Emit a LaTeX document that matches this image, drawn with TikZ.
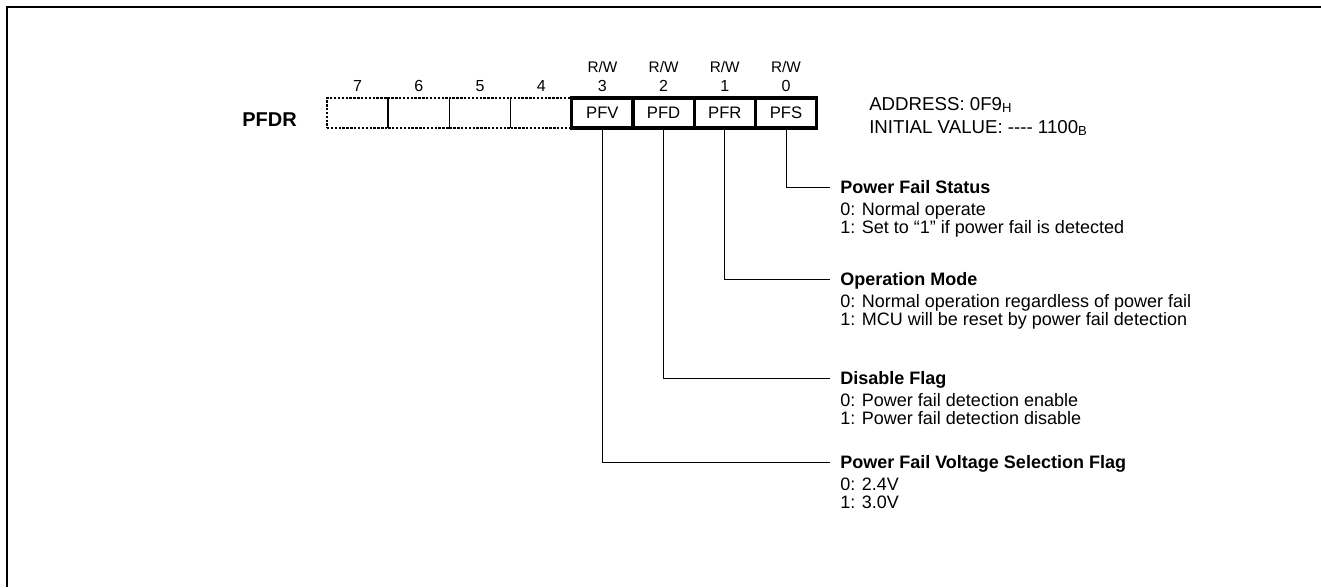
\documentclass[tikz,border=0pt]{standalone}
\usepackage{fontspec}
\setmainfont{Liberation Sans}
\usetikzlibrary{positioning}

\newcommand{\cellfont}{\fontsize{12.5}{14}\selectfont}
\newcommand{\descfont}{\fontsize{13.5}{13.5}\selectfont}
\newcommand{\addrfont}{\fontsize{14}{17}\selectfont}

\tikzset{
  every node/.style={font=\cellfont},
  freebit/.style={draw, line width=1.3pt, dash pattern=on 1.8pt off 1.1pt,
    minimum width=45.9pt, minimum height=22.5pt, inner sep=0pt, outer sep=0pt},
  regbit/.style={draw, line width=2.3pt, minimum width=45.9pt,
    minimum height=22.5pt, inner sep=0pt, outer sep=0pt},
  bitno/.style={inner sep=0pt, font=\fontsize{12}{14}\selectfont,
    text height=8.6pt, text depth=0pt},
  access/.style={inner sep=0pt, font=\fontsize{11.5}{14}\selectfont,
    text height=8.3pt, text depth=0pt},
  addrtext/.style={font=\addrfont, inner sep=0pt, anchor=base west},
  fieldname/.style={font=\descfont\bfseries, inner sep=0pt, anchor=west,
    text height=9.7pt, text depth=0pt},
  fieldvals/.style={font=\descfont, inner sep=0pt, align=left, anchor=base west},
  leader/.style={line width=0.75pt}
}

\begin{document}
\begin{tikzpicture}[x=0.75pt, y=-0.75pt]
  \useasboundingbox (0,0) rectangle (1321,587);
  % frame
  \draw[line width=1.5pt] (6.5,587) -- (6.5,6.5) -- (1321,6.5);

  % register cells
  \node[font=\fontsize{15}{17}\selectfont\bfseries, inner sep=0pt, anchor=base]
    (pfdr) at (269.5,126.7) {PFDR};
  \node[freebit] (bit7) at (357.6,113) {};
  \node[freebit, right=0pt of bit7] (bit6) {};
  \node[freebit, right=0pt of bit6] (bit5) {};
  \node[freebit, right=0pt of bit5] (bit4) {};
  \node[regbit, right=0pt of bit4] (pfv) {PFV};
  \node[regbit, right=0pt of pfv] (pfd) {PFD};
  \node[regbit, right=0pt of pfd] (pfr) {PFR};
  \node[regbit, right=0pt of pfr] (pfs) {PFS};

  % bit numbers and access
  \node[bitno, above=4.7pt of bit7] (num7) {7};
  \node[bitno, above=4.7pt of bit6] (num6) {6};
  \node[bitno, above=4.7pt of bit5] (num5) {5};
  \node[bitno, above=4.7pt of bit4] (num4) {4};
  \node[bitno, above=4.7pt of pfv] (num3) {3};
  \node[bitno, above=4.7pt of pfd] (num2) {2};
  \node[bitno, above=4.7pt of pfr] (num1) {1};
  \node[bitno, above=4.7pt of pfs] (num0) {0};
  \node[access, above=5pt of num3] (rw3) {R/W};
  \node[access, above=5pt of num2] (rw2) {R/W};
  \node[access, above=5pt of num1] (rw1) {R/W};
  \node[access, above=5pt of num0] (rw0) {R/W};

  \node[addrtext] (addr) at (869,110) {ADDRESS: 0F9\textsubscript{H}};
  \node[addrtext] (init) at ([yshift=-17.25pt]addr.base west)
    {INITIAL VALUE: -\kern0pt-\kern0pt-\kern0pt- 1100\textsubscript{B}};

  % field descriptions
  \node[fieldname] (pfsname) at (840,187) {Power Fail Status};
  \node[fieldvals] (pfsvals) at ([yshift=-29.6pt]pfsname.south west)
    {0: Normal operate\\1: Set to “1” if power fail is detected};
  \draw[leader] (pfs.south) |- ([xshift=-7.5pt]pfsname.west);

  \node[fieldname] (pfrname) at (840,279) {Operation Mode};
  \node[fieldvals] (pfrvals) at ([yshift=-29.6pt]pfrname.south west)
    {0: Normal operation regardless of power fail\\1: MCU will be reset by power fail detection};
  \draw[leader] (pfr.south) |- ([xshift=-7.5pt]pfrname.west);

  \node[fieldname] (pfdname) at (840,378) {Disable Flag};
  \node[fieldvals] (pfdvals) at ([yshift=-29.6pt]pfdname.south west)
    {0: Power fail detection enable\\1: Power fail detection disable};
  \draw[leader] (pfd.south) |- ([xshift=-7.5pt]pfdname.west);

  \node[fieldname] (pfvname) at (840,462) {Power Fail Voltage Selection Flag};
  \node[fieldvals] (pfvvals) at ([yshift=-29.6pt]pfvname.south west)
    {0: 2.4V\\1: 3.0V};
  \draw[leader] (pfv.south) |- ([xshift=-7.5pt]pfvname.west);
\end{tikzpicture}
\end{document}
